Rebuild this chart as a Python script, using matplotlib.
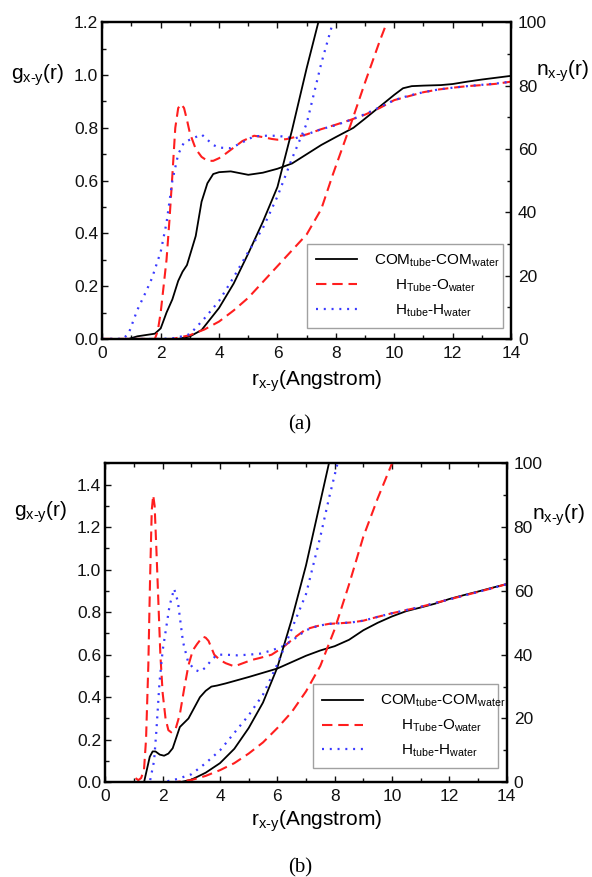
import matplotlib
matplotlib.use("Agg")
import matplotlib.pyplot as plt
from matplotlib.ticker import MultipleLocator

plt.rcParams['font.family'] = ['Liberation Sans', 'DejaVu Sans']
plt.rcParams['mathtext.fontset'] = 'custom'
plt.rcParams['mathtext.rm'] = 'Liberation Sans'
plt.rcParams['mathtext.default'] = 'regular'

# ---------------- panel (a) ----------------
a_com_g_r = [0.0, 0.9, 1.2, 1.8, 2.0, 2.2, 2.4, 2.6, 2.75, 2.9, 3.2, 3.4, 3.6, 3.8, 4.0, 4.4, 5.0, 5.5, 6.0,
             6.5, 7.0, 7.5, 8.0, 8.6, 9.0, 9.5, 10.0, 10.3, 10.6, 11.0, 11.6, 12.0, 12.5, 13.0, 13.5, 14.0]
a_com_g = [0, 0, 0.01, 0.02, 0.04, 0.10, 0.15, 0.22, 0.255, 0.28, 0.39, 0.52, 0.59, 0.625, 0.632, 0.635, 0.622,
           0.63, 0.645, 0.665, 0.70, 0.735, 0.765, 0.80, 0.835, 0.88, 0.925, 0.95, 0.958, 0.96, 0.962, 0.966,
           0.975, 0.983, 0.99, 0.997]

a_ho_g_r = [0, 1.8, 1.9, 2.0, 2.1, 2.2, 2.3, 2.4, 2.5, 2.6, 2.7, 2.8, 2.9, 3.0, 3.2, 3.4, 3.6, 3.8, 4.0, 4.2,
            4.5, 4.8, 5.0, 5.2, 5.5, 5.8, 6.0, 6.3, 6.6, 7.0, 7.5, 8.0, 8.5, 9.0, 9.5, 10.0, 10.5, 11.0, 11.5,
            12.0, 12.5, 13.0, 13.5, 14.0]
a_ho_g = [0, 0, 0.03, 0.10, 0.20, 0.30, 0.45, 0.62, 0.80, 0.875, 0.89, 0.875, 0.83, 0.78, 0.72, 0.69, 0.675,
          0.675, 0.685, 0.70, 0.725, 0.75, 0.76, 0.77, 0.765, 0.758, 0.755, 0.757, 0.765, 0.775, 0.795, 0.812,
          0.83, 0.85, 0.875, 0.905, 0.92, 0.935, 0.945, 0.952, 0.958, 0.962, 0.967, 0.975]

a_hh_g_r = [0, 0.7, 0.9, 1.2, 1.5, 1.7, 2.0, 2.2, 2.4, 2.6, 2.8, 3.0, 3.2, 3.4, 3.6, 3.8, 4.0, 4.4, 4.8, 5.2,
            5.6, 6.0, 6.6, 7.0, 7.5, 8.0, 8.5, 9.0, 9.5, 10.0, 10.5, 11.0, 11.5, 12.0, 12.5, 13.0, 13.5, 14.0]
a_hh_g = [0, 0, 0.02, 0.11, 0.18, 0.23, 0.33, 0.44, 0.60, 0.70, 0.745, 0.755, 0.765, 0.775, 0.755, 0.735,
          0.725, 0.723, 0.745, 0.768, 0.77, 0.77, 0.76, 0.775, 0.795, 0.81, 0.83, 0.852, 0.878, 0.905, 0.922,
          0.935, 0.945, 0.952, 0.958, 0.963, 0.968, 0.975]

a_com_n_r = [0, 2.6, 3.0, 3.4, 4.0, 4.5, 5.0, 5.5, 6.0, 6.5, 7.0, 7.4]
a_com_n = [0, 0, 0.8, 2.8, 9.8, 17.5, 27, 37, 48, 66, 85.5, 100]

a_hh_n_r = [0, 2.0, 2.5, 3.0, 3.5, 4.0, 4.5, 5.0, 5.5, 6.0, 6.5, 7.0, 7.5, 7.9]
a_hh_n = [0, 0, 0.3, 1.5, 6.5, 12, 19.5, 27.5, 35, 45, 57, 68, 87, 100]

a_ho_n_r = [0, 2.4, 3.0, 3.5, 4.0, 4.5, 5.0, 5.5, 6.0, 6.5, 7.0, 7.5, 7.9, 8.5, 9.0, 9.5, 9.75]
a_ho_n = [0, 0, 1.2, 3, 5.5, 9, 13, 18, 23, 28, 33, 41, 52, 67.5, 81, 94, 100]

# ---------------- panel (b) ----------------
b_com_g_r = [0, 1.35, 1.45, 1.55, 1.65, 1.75, 1.9, 2.05, 2.2, 2.35, 2.5, 2.6, 2.75, 2.9, 3.1, 3.3, 3.5, 3.7,
             3.9, 4.2, 4.6, 5.0, 5.5, 6.0, 6.5, 7.0, 7.5, 8.0, 8.5, 9.0, 9.5, 10.0, 10.5, 11.0, 11.5, 12.0,
             12.5, 13.0, 13.5, 14.0]
b_com_g = [0, 0, 0.06, 0.12, 0.145, 0.145, 0.13, 0.125, 0.135, 0.16, 0.22, 0.26, 0.28, 0.30, 0.35, 0.40,
           0.43, 0.45, 0.455, 0.465, 0.48, 0.495, 0.515, 0.535, 0.565, 0.595, 0.62, 0.64, 0.67, 0.715, 0.75,
           0.78, 0.805, 0.822, 0.84, 0.862, 0.88, 0.897, 0.915, 0.932]

b_ho_g_r = [0, 0.95, 1.05, 1.15, 1.25, 1.35, 1.42, 1.5, 1.56, 1.62, 1.67, 1.72, 1.78, 1.85, 1.92, 2.0, 2.1,
            2.2, 2.3, 2.45, 2.6, 2.75, 2.9, 3.05, 3.2, 3.4, 3.5, 3.6, 3.8, 4.0, 4.2, 4.5, 4.8, 5.1, 5.4, 5.8,
            6.2, 6.6, 7.0, 7.4, 7.8, 8.2, 8.6, 9.0, 9.5, 10.0, 10.5, 11.0, 11.5, 12.0, 12.5, 13.0, 13.5, 14.0]
b_ho_g = [0, 0, 0.02, 0.01, 0.02, 0.06, 0.2, 0.55, 0.95, 1.28, 1.35, 1.30, 1.10, 0.85, 0.60, 0.42, 0.30,
          0.245, 0.235, 0.25, 0.32, 0.44, 0.55, 0.62, 0.65, 0.685, 0.68, 0.665, 0.60, 0.575, 0.56, 0.545,
          0.56, 0.575, 0.585, 0.60, 0.635, 0.68, 0.72, 0.735, 0.745, 0.748, 0.752, 0.76, 0.778, 0.795, 0.81,
          0.825, 0.843, 0.86, 0.878, 0.895, 0.913, 0.932]

b_hh_g_r = [0, 1.55, 1.7, 1.78, 1.89, 2.0, 2.07, 2.24, 2.4, 2.53, 2.71, 2.88, 3.1, 3.3, 3.5, 3.7, 3.9, 4.2,
            4.6, 5.0, 5.4, 5.8, 6.2, 6.6, 7.0, 7.4, 7.8, 8.2, 8.6, 9.0, 9.5, 10.0, 10.5, 11.0, 11.5, 12.0,
            12.5, 13.0, 13.5, 14.0]
b_hh_g = [0, 0, 0.1, 0.24, 0.47, 0.62, 0.68, 0.83, 0.91, 0.85, 0.66, 0.57, 0.53, 0.52, 0.54, 0.575, 0.6,
          0.6, 0.597, 0.6, 0.605, 0.62, 0.64, 0.675, 0.715, 0.735, 0.745, 0.748, 0.752, 0.76, 0.778, 0.795,
          0.81, 0.825, 0.843, 0.86, 0.878, 0.895, 0.913, 0.932]

b_com_n_r = [0, 2.6, 3.0, 3.5, 4.0, 4.5, 5.0, 5.5, 6.0, 6.5, 7.0, 7.4, 7.8]
b_com_n = [0, 0, 0.8, 3, 6, 10.5, 17, 25, 36, 51, 68, 84, 100]

b_hh_n_r = [0, 2.0, 2.5, 3.0, 3.5, 4.0, 4.5, 5.0, 5.5, 6.0, 6.5, 7.0, 7.5, 7.8, 8.1]
b_hh_n = [0, 0, 1, 2.5, 6, 10, 15.5, 21, 27.5, 37, 48, 59, 77, 89, 100]

b_ho_n_r = [0, 2.4, 3.0, 3.5, 4.0, 4.5, 5.0, 5.5, 6.0, 6.5, 7.0, 7.5, 8.0, 8.5, 9.0, 9.5, 10.0]
b_ho_n = [0, 0, 0.7, 2, 3.8, 6, 9, 12.5, 17, 22, 28.5, 36.5, 48, 62, 77, 89, 100]

labels = [r'COM$_{\text{tube}}$-COM$_{\text{water}}$',
          r'     H$_{\text{Tube}}$-O$_{\text{water}}$',
          r'     H$_{\text{tube}}$-H$_{\text{water}}$']
g_label = r'g$_{\text{x-y}}$(r)'
n_label = r'n$_{\text{x-y}}$(r)'
x_label = r'r$_{\text{x-y}}$(Angstrom)'

RED = '#ff1e1e'
BLUE = '#3a3aff'
sty_com = dict(color='black', lw=1.3, linestyle='-')
sty_ho = dict(color=RED, lw=1.5, linestyle=(0, (5, 2.8)))
sty_hh = dict(color=BLUE, lw=1.6, linestyle=(0, (0.9, 2.6)))


def style_axes(ax, ax2, gmax, gstep):
    ax.set_xlim(0, 14)
    ax.set_ylim(0, gmax)
    ax2.set_ylim(0, 100)
    ax.xaxis.set_major_locator(MultipleLocator(2))
    ax.xaxis.set_minor_locator(MultipleLocator(1))
    ax.yaxis.set_major_locator(MultipleLocator(gstep))
    ax.yaxis.set_minor_locator(MultipleLocator(gstep / 2))
    ax2.yaxis.set_major_locator(MultipleLocator(20))
    ax2.yaxis.set_minor_locator(MultipleLocator(10))
    ax.yaxis.set_major_formatter(plt.FormatStrFormatter('%.1f'))
    for a in (ax, ax2):
        a.tick_params(which='both', direction='in', width=1.0, labelsize=12.5, colors='#111111')
        a.tick_params(which='major', length=4.5)
        a.tick_params(which='minor', length=2.8)
        for s in a.spines.values():
            s.set_linewidth(1.6)
    ax.tick_params(axis='x', which='both', top=True, pad=5)
    ax.tick_params(axis='y', which='both', right=False, pad=3)
    ax2.tick_params(axis='y', which='both', pad=5)


fig = plt.figure(figsize=(5.92, 8.77), dpi=100)

panels = [
    dict(rect=[0.1728, 0.6135, 0.6904, 0.3611], gmax=1.2,
         g=[(a_com_g_r, a_com_g), (a_ho_g_r, a_ho_g), (a_hh_g_r, a_hh_g)],
         n=[(a_com_n_r, a_com_n), (a_ho_n_r, a_ho_n), (a_hh_n_r, a_hh_n)],
         leg=(0.50, 0.035, 0.48, 0.27), glab=(0.018, 0.914), nlab=(0.905, 0.919),
         xlab=(0.535, 0.560), cap=(0.507, 0.515), caption='(a)'),
    dict(rect=[0.1779, 0.1080, 0.6780, 0.3637], gmax=1.5,
         g=[(b_com_g_r, b_com_g), (b_ho_g_r, b_ho_g), (b_hh_g_r, b_hh_g)],
         n=[(b_com_n_r, b_com_n), (b_ho_n_r, b_ho_n), (b_hh_n_r, b_hh_n)],
         leg=(0.517, 0.044, 0.462, 0.25), glab=(0.023, 0.416), nlab=(0.899, 0.413),
         xlab=(0.5355, 0.059), cap=(0.507, 0.010), caption='(b)'),
]

for p in panels:
    ax = fig.add_axes(p['rect'])
    ax2 = ax.twinx()
    styles = [sty_com, sty_ho, sty_hh]
    handles = []
    for (r, g), st in zip(p['g'], styles):
        h, = ax.plot(r, g, **st)
        handles.append(h)
    for (r, n), st in zip(p['n'], styles):
        ax2.plot(r, n, **st)
    style_axes(ax, ax2, p['gmax'], 0.2)
    leg = ax2.legend(handles, labels, loc='lower left', bbox_to_anchor=p['leg'], mode='expand',
                     fontsize=11, frameon=True, fancybox=False, edgecolor='#8a8a8a',
                     handlelength=2.7, handletextpad=1.1, labelspacing=0.55, borderpad=0.6,
                     borderaxespad=0)
    leg.get_frame().set_linewidth(1.0)
    fig.text(p['glab'][0], p['glab'][1], g_label, fontsize=15, ha='left', va='center')
    fig.text(p['nlab'][0], p['nlab'][1], n_label, fontsize=15, ha='left', va='center')
    fig.text(p['xlab'][0], p['xlab'][1], x_label, fontsize=15, ha='center', va='baseline')
    fig.text(p['cap'][0], p['cap'][1], p['caption'], fontsize=15, family='Liberation Serif',
             ha='center', va='center')

fig.savefig('out.png', dpi=100, facecolor='white')
